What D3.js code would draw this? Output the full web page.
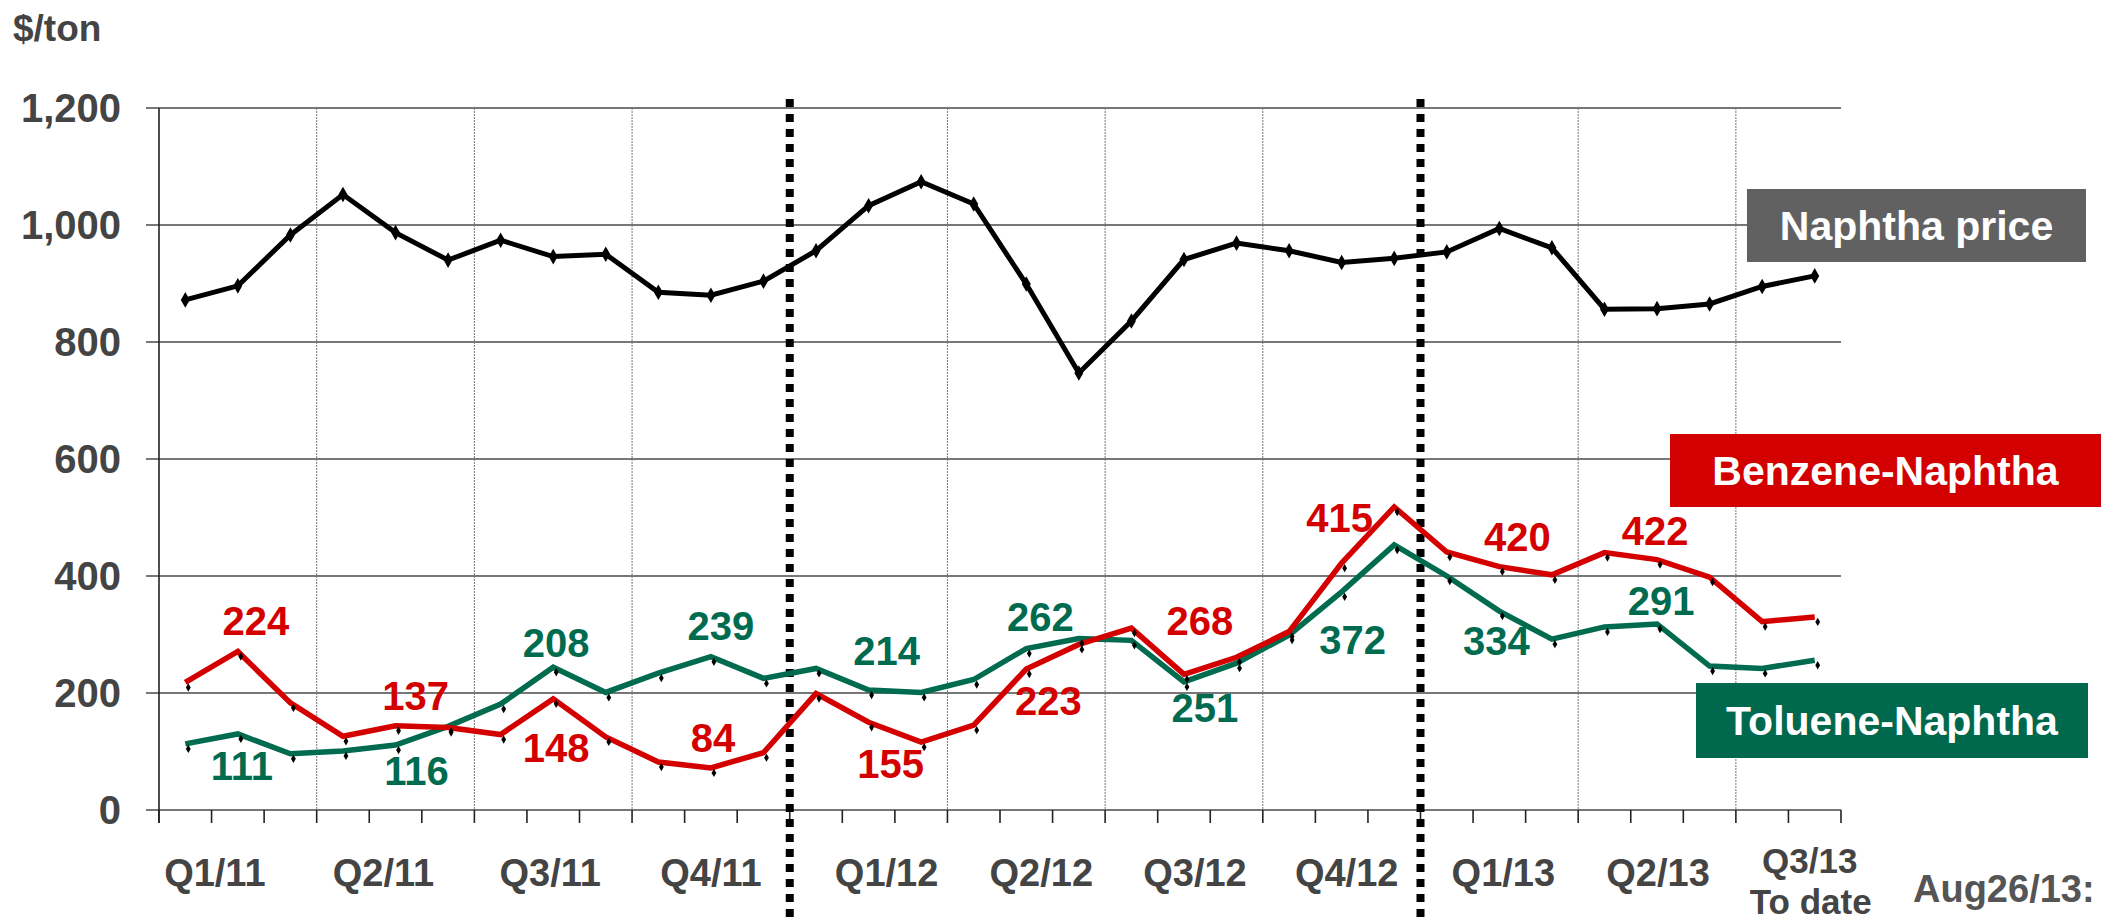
<!DOCTYPE html>
<html>
<head>
<meta charset="utf-8">
<script src="https://cdn.jsdelivr.net/npm/d3@7"></script>
<style>
  body { margin: 0; background: #fff; }
  svg { display: block; font-family: "Liberation Sans", Arial, sans-serif; font-weight: bold; }
</style>
</head>
<body>
<svg id="chart" width="2119" height="921"></svg>
<script>
// monthly categories, Jan 2011 .. Aug 2013
const months = [
  "Jan11","Feb11","Mar11","Apr11","May11","Jun11","Jul11","Aug11","Sep11","Oct11","Nov11","Dec11",
  "Jan12","Feb12","Mar12","Apr12","May12","Jun12","Jul12","Aug12","Sep12","Oct12","Nov12","Dec12",
  "Jan13","Feb13","Mar13","Apr13","May13","Jun13","Jul13","Aug13"
];

// $/ton
const naphtha = [872, 896, 983, 1052, 987, 940, 974, 946, 950, 885, 880, 904,
                 956, 1033, 1074, 1036, 899, 747, 836, 941, 969, 956, 936, 943,
                 954, 994, 961, 856, 857, 865, 895, 913];
const benzene = [218, 271, 183, 126, 144, 141, 129, 190, 125, 82, 72, 98,
                 199, 150, 116, 145, 241, 283, 311, 232, 261, 305, 422, 518,
                 441, 416, 402, 440, 428, 398, 322, 330];
const toluene = [113, 130, 96, 101, 111, 143, 181, 244, 201, 234, 262, 225,
                 242, 205, 201, 223, 276, 293, 290, 219, 251, 299, 373, 453,
                 400, 340, 292, 313, 318, 246, 242, 256];

// quarter labels and quarterly averages printed on the chart
const quarters = ["Q1/11","Q2/11","Q3/11","Q4/11","Q1/12","Q2/12","Q3/12","Q4/12","Q1/13","Q2/13","Q3/13"];
const benzeneAvg = [224, 137, 148, 84, 155, 223, 268, 415, 420, 422];
const tolueneAvg = [111, 116, 208, 239, 214, 262, 251, 372, 334, 291];

const yTicks = [0, 200, 400, 600, 800, 1000, 1200];

// label placement (dx, dy from the point at the label's value)
const benzeneLabelPos = [[18,-44],[20,-20],[3,39],[2,-9],[22,59],[22,35],[16,-18],[-2,-35],[18,-13],[-2,-18]];
const tolueneLabelPos = [[4,35],[21,43],[3,-31],[10,-30],[18,-20],[14,-26],[21,59],[11,62],[-3,40],[4,-25]];
const quarterLabelDx = [-23, -12, -3, 0, 18, 15, 11, 5, 4, 1, -5];

const RED = "#d40000", GREEN = "#006b4f", GREY = "#444";

const svg = d3.select("#chart");

const x = d3.scaleBand().domain(months).range([159, 1841]);
const y = d3.scaleLinear().domain([0, 1200]).range([810, 108]);
const cx = m => x(m) + x.bandwidth() / 2;
const edges = d3.range(months.length + 1).map(i => x.range()[0] + i * x.step());

// horizontal grid
svg.append("g")
  .selectAll("line")
  .data(yTicks)
  .join("line")
    .attr("x1", 146).attr("x2", x.range()[1])
    .attr("y1", d => y(d)).attr("y2", d => y(d))
    .attr("stroke", "#4a4a4a").attr("stroke-width", 1.6);

// quarter grid (thin dotted)
svg.append("g")
  .selectAll("line")
  .data(edges.filter((e, i) => i > 0 && i < months.length && i % 3 == 0 && i % 12 != 0))
  .join("line")
    .attr("x1", d => d).attr("x2", d => d)
    .attr("y1", y(1200)).attr("y2", y(0))
    .attr("stroke", "#777").attr("stroke-width", 1).attr("stroke-dasharray", "2 1");

// y axis line + labels
svg.append("line")
  .attr("x1", x.range()[0]).attr("x2", x.range()[0])
  .attr("y1", y(1200)).attr("y2", y(0) + 13)
  .attr("stroke", "#222").attr("stroke-width", 1.6);

svg.append("g")
  .selectAll("text")
  .data(yTicks)
  .join("text")
    .attr("x", 121).attr("y", d => y(d)).attr("dy", "0.36em")
    .attr("text-anchor", "end")
    .attr("font-size", 40).attr("fill", GREY)
    .text(d => d3.format(",")(d));

svg.append("text")
  .attr("x", 13).attr("y", 41)
  .attr("font-size", 37).attr("fill", GREY)
  .text("$/ton");

// x axis ticks
svg.append("g")
  .selectAll("line")
  .data(edges)
  .join("line")
    .attr("x1", d => d).attr("x2", d => d)
    .attr("y1", y(0)).attr("y2", y(0) + 13)
    .attr("stroke", "#222").attr("stroke-width", 1.6);

// quarter labels, near the middle month of each quarter
const last = quarters.length - 1;
svg.append("g")
  .selectAll("text")
  .data(quarters)
  .join("text")
    .attr("x", (d, i) => cx(months[Math.min(i * 3 + 1, months.length - 1)]) + quarterLabelDx[i])
    .attr("y", (d, i) => i == last ? 873 : 886)
    .attr("text-anchor", "middle")
    .attr("font-size", (d, i) => i == last ? 35 : 38).attr("fill", GREY)
    .text(d => d);

svg.append("text")
  .attr("x", cx(months[months.length - 1]) - 4).attr("y", 914)
  .attr("text-anchor", "middle")
  .attr("font-size", 35).attr("fill", GREY)
  .text("To date");

svg.append("text")
  .attr("x", 1913).attr("y", 902)
  .attr("font-size", 38).attr("fill", "#555")
  .text("Aug26/13:");

// year dividers (thick dotted)
svg.append("g")
  .selectAll("line")
  .data(edges.filter((e, i) => i > 0 && i < months.length && i % 12 == 0))
  .join("line")
    .attr("x1", d => d).attr("x2", d => d)
    .attr("y1", 99).attr("y2", 921)
    .attr("stroke", "#000").attr("stroke-width", 8).attr("stroke-dasharray", "8 7");

// lines
const line = d3.line().x((d, i) => cx(months[i])).y(d => y(d));

function series(data, color, width) {
  svg.append("path")
    .datum(data)
    .attr("fill", "none")
    .attr("stroke", color).attr("stroke-width", width)
    .attr("stroke-linejoin", "miter")
    .attr("d", line);
}

series(toluene, GREEN, 5.5);
series(benzene, RED, 5.5);
series(naphtha, "#000", 5);

// markers
const bigDiamond = d3.symbol(d3.symbolDiamond, 70);
svg.append("g")
  .selectAll("path")
  .data(naphtha)
  .join("path")
    .attr("transform", (d, i) => `translate(${cx(months[i])},${y(d)})`)
    .attr("d", bigDiamond)
    .attr("fill", "#000");

const smallDiamond = d3.symbol(d3.symbolDiamond, 20);
[benzene, toluene].forEach(s => {
  svg.append("g")
    .selectAll("path")
    .data(s)
    .join("path")
      .attr("transform", (d, i) => `translate(${cx(months[i]) + 3},${y(d) + 5})`)
      .attr("d", smallDiamond)
      .attr("fill", "#000");
});

// quarterly value labels
function qLabels(vals, pos, color) {
  svg.append("g")
    .selectAll("text")
    .data(vals)
    .join("text")
      .attr("x", (d, i) => cx(months[i * 3 + 1]) + pos[i][0])
      .attr("y", (d, i) => y(d) + pos[i][1])
      .attr("text-anchor", "middle")
      .attr("font-size", 40).attr("fill", color)
      .text(d => d);
}
qLabels(benzeneAvg, benzeneLabelPos, RED);
qLabels(tolueneAvg, tolueneLabelPos, GREEN);

// legend boxes
const legend = [
  {name: "Naphtha price",   color: "#616161", x: 1747, y: 189, w: 339, h: 73},
  {name: "Benzene-Naphtha", color: "#d20000", x: 1670, y: 434, w: 431, h: 73},
  {name: "Toluene-Naphtha", color: "#00684d", x: 1696, y: 683, w: 392, h: 75}
];
const lg = svg.append("g")
  .selectAll("g")
  .data(legend)
  .join("g");
lg.append("rect")
  .attr("x", d => d.x).attr("y", d => d.y)
  .attr("width", d => d.w).attr("height", d => d.h)
  .attr("fill", d => d.color);
lg.append("text")
  .attr("x", d => d.x + d.w / 2).attr("y", d => d.y + d.h / 2)
  .attr("dy", "0.36em")
  .attr("text-anchor", "middle")
  .attr("font-size", 41).attr("fill", "#fff")
  .text(d => d.name);
</script>
</body>
</html>
